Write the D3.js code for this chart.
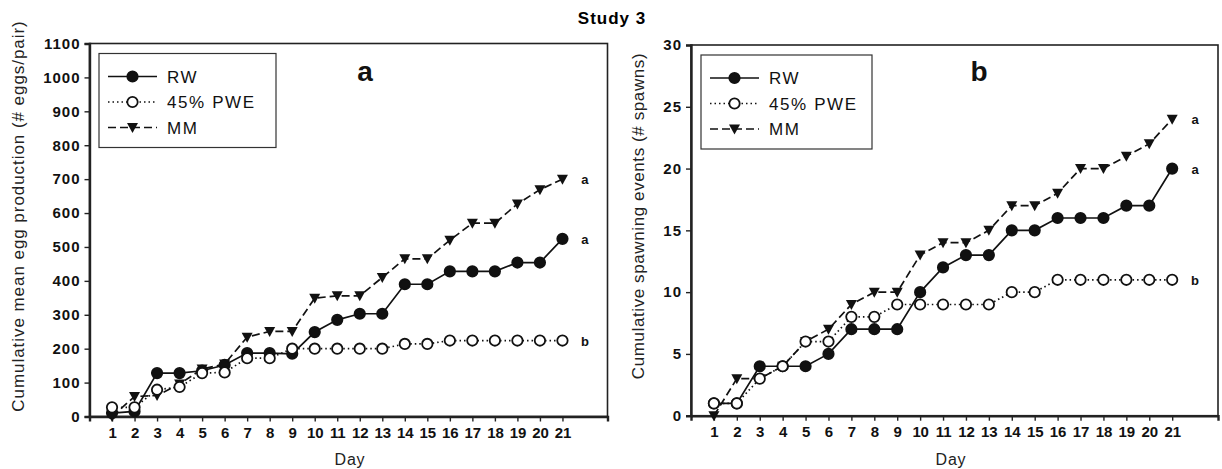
<!DOCTYPE html>
<html>
<head>
<meta charset="utf-8">
<script src="https://cdn.jsdelivr.net/npm/d3@7"></script>
<style>
  body { margin: 0; background: #fff; }
  svg text { font-family: Arial, "Liberation Sans", sans-serif; }
</style>
</head>
<body>
<div id="chart"></div>
<script>
var days = d3.range(1, 22);
var seriesNames = ["RW", "45% PWE", "MM"];

// panel a: cumulative mean egg production (# eggs/pair)
var eggsRW  = [10, 15, 128, 128, 135, 152, 187, 187, 185, 249, 285, 303, 303, 390, 390, 428, 428, 428, 454, 454, 524];
var eggsPWE = [27, 27, 79, 87, 128, 130, 172, 172, 200, 200, 200, 200, 200, 214, 214, 224, 224, 224, 224, 224, 224];
var eggsMM  = [0, 59, 62, 96, 140, 155, 234, 251, 251, 349, 356, 356, 410, 465, 465, 520, 570, 570, 627, 669, 700];
var eggsLetters = ["a", "b", "a"]; // RW, PWE, MM
var eggsTicks = d3.range(0, 1101, 100);

// panel b: cumulative spawning events (# spawns)
var spawnRW  = [1, 1, 4, 4, 4, 5, 7, 7, 7, 10, 12, 13, 13, 15, 15, 16, 16, 16, 17, 17, 20];
var spawnPWE = [1, 1, 3, 4, 6, 6, 8, 8, 9, 9, 9, 9, 9, 10, 10, 11, 11, 11, 11, 11, 11];
var spawnMM  = [0, 3, 3, 4, 6, 7, 9, 10, 10, 13, 14, 14, 15, 17, 17, 18, 20, 20, 21, 22, 24];
var spawnLetters = ["a", "b", "a"];
var spawnTicks = d3.range(0, 31, 5);

var svg = d3.select("#chart").append("svg")
  .attr("width", 1222)
  .attr("height", 469);

svg.append("text")
  .attr("x", 612).attr("y", 24)
  .attr("text-anchor", "middle")
  .style("font-size", "17px").style("font-weight", "bold")
  .style("letter-spacing", "1px")
  .text("Study 3");

var styles = [
  {dash: null, fill: "#111", shape: "circle"},
  {dash: "1.5,3", fill: "#fff", shape: "circle"},
  {dash: "8,4", fill: "#111", shape: "triangle"}
];

function drawMarker(g, shape, fill, x, y) {
  if (shape == "circle") {
    g.append("circle")
      .attr("cx", x).attr("cy", y).attr("r", 5.2)
      .attr("fill", fill)
      .attr("stroke", "#111").attr("stroke-width", 1.8);
  } else {
    g.append("path")
      .attr("d", `M${x - 5.5},${y - 4.5}L${x + 5.5},${y - 4.5}L${x},${y + 5.5}Z`)
      .attr("fill", "#111");
  }
}

function drawPanel(p) {
  var x = d3.scaleLinear().domain([0, 23]).range([p.left, p.right]);
  var y = d3.scaleLinear().domain([0, p.yMax]).range([p.bottom, p.top]);
  var g = svg.append("g");

  // frame
  g.append("rect")
    .attr("x", p.left).attr("y", p.top)
    .attr("width", p.right - p.left).attr("height", p.bottom - p.top)
    .attr("fill", "none").attr("stroke", "#222").attr("stroke-width", 1.6);

  var yAxis = g.append("g")
    .attr("transform", `translate(${p.left},0)`)
    .call(d3.axisLeft(y).tickValues(p.ticks).tickFormat(d3.format("d"))
      .tickSize(5).tickPadding(4));
  var xAxis = g.append("g")
    .attr("transform", `translate(0,${p.bottom})`)
    .call(d3.axisBottom(x).tickValues(days).tickSize(5).tickPadding(6));
  [xAxis, yAxis].forEach(function(a) {
    a.select(".domain").attr("stroke", "#222").attr("stroke-width", 2.4);
    a.selectAll(".tick line").attr("stroke", "#222").attr("stroke-width", 1.4);
    a.selectAll(".tick text")
      .attr("fill", "#111")
      .style("font-size", "15px").style("font-weight", "bold");
  });
  yAxis.selectAll(".tick text").style("letter-spacing", "1px");
  xAxis.selectAll(".tick text").style("letter-spacing", "-0.1px");

  g.append("text")
    .attr("transform", `translate(${p.yLabelX},${p.yLabelY}) rotate(-90)`)
    .attr("text-anchor", "middle")
    .attr("fill", "#222")
    .style("font-size", "17px")
    .style("letter-spacing", p.yLabelSpacing)
    .text(p.yLabel);

  g.append("text")
    .attr("x", p.dayX).attr("y", 465)
    .attr("text-anchor", "middle")
    .attr("fill", "#222")
    .style("font-size", "16px")
    .style("letter-spacing", "0.8px")
    .text("Day");

  g.append("text")
    .attr("x", p.tagX).attr("y", 81)
    .attr("text-anchor", "middle")
    .attr("fill", "#111")
    .style("font-size", "28px").style("font-weight", "bold")
    .text(p.tag);

  var line = d3.line()
    .x(function(d, i) { return x(days[i]); })
    .y(function(d) { return y(d); });

  p.series.forEach(function(s, k) {
    var st = styles[k];
    g.append("path")
      .datum(s)
      .attr("d", line)
      .attr("fill", "none")
      .attr("stroke", "#111")
      .attr("stroke-width", 1.7)
      .attr("stroke-dasharray", st.dash);
  });
  // draw open circles last so they stay visible
  [2, 0, 1].forEach(function(k) {
    var st = styles[k];
    p.series[k].forEach(function(v, i) {
      drawMarker(g, st.shape, st.fill, x(days[i]), y(v));
    });
    g.append("text")
      .attr("x", x(22)).attr("y", y(p.series[k][20]) + 5)
      .attr("text-anchor", "middle")
      .attr("fill", "#111")
      .style("font-size", "13px").style("font-weight", "bold")
      .text(p.letters[k]);
  });

  // legend
  var lg = g.append("g");
  lg.append("rect")
    .attr("x", p.legX).attr("y", p.legY)
    .attr("width", p.legW).attr("height", 94)
    .attr("fill", "#fff").attr("stroke", "#333").attr("stroke-width", 1.2);
  seriesNames.forEach(function(name, k) {
    var st = styles[k];
    var ry = p.legY + 23 + k * 25.5;
    var lx = p.legX + 9;
    lg.append("line")
      .attr("x1", lx).attr("x2", lx + 49)
      .attr("y1", ry).attr("y2", ry)
      .attr("stroke", "#111").attr("stroke-width", 1.7)
      .attr("stroke-dasharray", st.dash);
    drawMarker(lg, st.shape, st.fill, lx + 24.5, ry);
    lg.append("text")
      .attr("x", lx + 59).attr("y", ry + 6)
      .attr("fill", "#111")
      .style("font-size", "17px")
      .style("letter-spacing", "1.6px")
      .text(name);
  });
}

drawPanel({
  left: 89.5, right: 607.5, top: 43.5, bottom: 416.5,
  yMax: 1100, ticks: eggsTicks,
  series: [eggsRW, eggsPWE, eggsMM], letters: eggsLetters,
  yLabel: "Cumulative mean egg production (# eggs/pair)",
  yLabelX: 24, yLabelY: 216, yLabelSpacing: "0.95px",
  dayX: 350, tag: "a", tagX: 365,
  legX: 99, legY: 53.5, legW: 177
});

drawPanel({
  left: 691, right: 1218, top: 45, bottom: 415.7,
  yMax: 30, ticks: spawnTicks,
  series: [spawnRW, spawnPWE, spawnMM], letters: spawnLetters,
  yLabel: "Cumulative spawning events (# spawns)",
  yLabelX: 644, yLabelY: 216, yLabelSpacing: "0.6px",
  dayX: 951, tag: "b", tagX: 979,
  legX: 701, legY: 55, legW: 171
});
</script>
</body>
</html>
